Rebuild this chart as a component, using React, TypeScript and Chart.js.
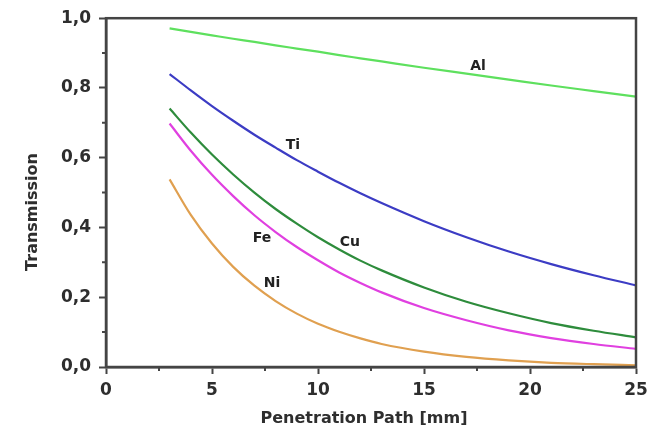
import React, { useEffect, useRef } from "react";
import { Chart, registerables } from "chart.js";
Chart.register(...registerables);

// Penetration path [mm]
const xValues = [3, 4, 5, 6, 7, 8, 9, 10, 11, 12, 13, 15, 17, 19, 21, 23, 25];
const alValues = [0.971, 0.961, 0.951, 0.941, 0.932, 0.922, 0.913, 0.904, 0.894, 0.885, 0.876, 0.858, 0.841, 0.824, 0.807, 0.791, 0.775];
const tiValues = [0.84, 0.793, 0.748, 0.706, 0.666, 0.629, 0.593, 0.56, 0.528, 0.498, 0.47, 0.418, 0.372, 0.331, 0.295, 0.263, 0.234];
const cuValues = [0.741, 0.672, 0.609, 0.552, 0.5, 0.453, 0.411, 0.372, 0.337, 0.305, 0.277, 0.228, 0.187, 0.154, 0.126, 0.104, 0.085];
const feValues = [0.698, 0.62, 0.551, 0.49, 0.435, 0.387, 0.344, 0.306, 0.271, 0.241, 0.214, 0.169, 0.134, 0.105, 0.083, 0.066, 0.052];
const niValues = [0.538, 0.436, 0.354, 0.287, 0.233, 0.189, 0.153, 0.124, 0.101, 0.082, 0.066, 0.044, 0.029, 0.019, 0.012, 0.008, 0.005];

const seriesNames = ["Al", "Ti", "Cu", "Fe", "Ni"];
const seriesValues = [alValues, tiValues, cuValues, feValues, niValues];
const seriesColors = ["#5ee05e", "#3c3cc4", "#2e8c3c", "#e040e0", "#e0a050"];

// in-plot label anchors (data coordinates)
const labelX = [17.55, 8.82, 11.5, 7.36, 7.83];
const labelY = [0.863, 0.635, 0.356, 0.368, 0.239];

const xTitle = "Penetration Path [mm]";
const yTitle = "Transmission";
const xMinorTicks = [2.5, 7.5, 12.5, 17.5, 22.5];
const yMinorTicks = [0.1, 0.3, 0.5, 0.7, 0.9];

const FONT = "'DejaVu Sans', sans-serif";
const AXIS_COLOR = "#444";
const TEXT_COLOR = "#2e2e2e";

const decorPlugin = {
  id: "decor",
  afterDatasetsDraw(chart: any) {
    const { ctx, chartArea, scales } = chart;
    const xs = scales.x;
    const ys = scales.y;
    ctx.save();
    // frame
    ctx.strokeStyle = AXIS_COLOR;
    ctx.lineWidth = 2.5;
    ctx.strokeRect(chartArea.left, chartArea.top, chartArea.right - chartArea.left, chartArea.bottom - chartArea.top);
    // minor ticks
    ctx.lineWidth = 2;
    ctx.beginPath();
    xMinorTicks.forEach((v) => {
      const px = xs.getPixelForValue(v);
      ctx.moveTo(px, chartArea.bottom);
      ctx.lineTo(px, chartArea.bottom + 4);
    });
    yMinorTicks.forEach((v) => {
      const py = ys.getPixelForValue(v);
      ctx.moveTo(chartArea.left - 4, py);
      ctx.lineTo(chartArea.left, py);
    });
    ctx.stroke();
    // series labels
    ctx.fillStyle = "#222";
    ctx.font = `bold 14px ${FONT}`;
    ctx.textAlign = "center";
    ctx.textBaseline = "middle";
    seriesNames.forEach((n, i) => {
      ctx.fillText(n, xs.getPixelForValue(labelX[i]), ys.getPixelForValue(labelY[i]));
    });
    // axis titles
    ctx.fillStyle = TEXT_COLOR;
    ctx.font = `bold 16px ${FONT}`;
    ctx.fillText(xTitle, 364, 419);
    ctx.translate(33, 212);
    ctx.rotate(-Math.PI / 2);
    ctx.fillText(yTitle, 0, 0);
    ctx.restore();
  },
};

export default function App() {
  const ref = useRef<HTMLCanvasElement | null>(null);
  useEffect(() => {
    if (!ref.current) return;
    const chart = new Chart(ref.current, {
      type: "line",
      data: {
        datasets: seriesNames.map((name, i) => ({
          label: name,
          data: xValues.map((x, j) => ({ x, y: seriesValues[i][j] })),
          borderColor: seriesColors[i],
          backgroundColor: seriesColors[i],
          borderWidth: 2.2,
          pointRadius: 0,
          cubicInterpolationMode: "monotone" as const,
          fill: false,
        })),
      },
      options: {
        animation: false,
        responsive: false,
        layout: { padding: { top: 16, right: 20, left: 0, bottom: 0 } },
        plugins: { legend: { display: false }, tooltip: { enabled: false } },
        scales: {
          x: {
            type: "linear",
            min: 0,
            max: 25,
            afterFit: (s: any) => {
              s.height = 66;
            },
            ticks: {
              stepSize: 5,
              padding: 6,
              color: TEXT_COLOR,
              font: { family: FONT, weight: "bold", size: 17 },
            },
            grid: { drawOnChartArea: false, drawTicks: true, tickLength: 7, tickColor: AXIS_COLOR, tickWidth: 2 },
            border: { color: AXIS_COLOR, width: 2.5 },
          },
          y: {
            type: "linear",
            min: 0,
            max: 1,
            afterFit: (s: any) => {
              s.width = 106;
            },
            ticks: {
              stepSize: 0.2,
              padding: 8,
              color: TEXT_COLOR,
              font: { family: FONT, weight: "bold", size: 17 },
              callback: (v: any) => Number(v).toFixed(1).replace(".", ","),
            },
            grid: { drawOnChartArea: false, drawTicks: true, tickLength: 7, tickColor: AXIS_COLOR, tickWidth: 2 },
            border: { color: AXIS_COLOR, width: 2.5 },
          },
        },
      },
      plugins: [decorPlugin],
    });
    return () => chart.destroy();
  }, []);
  return (
    <div style={{ position: "fixed", left: 0, top: 0, width: 656, height: 433, background: "#fff" }}>
      <canvas ref={ref} width={656} height={433} />
    </div>
  );
}
